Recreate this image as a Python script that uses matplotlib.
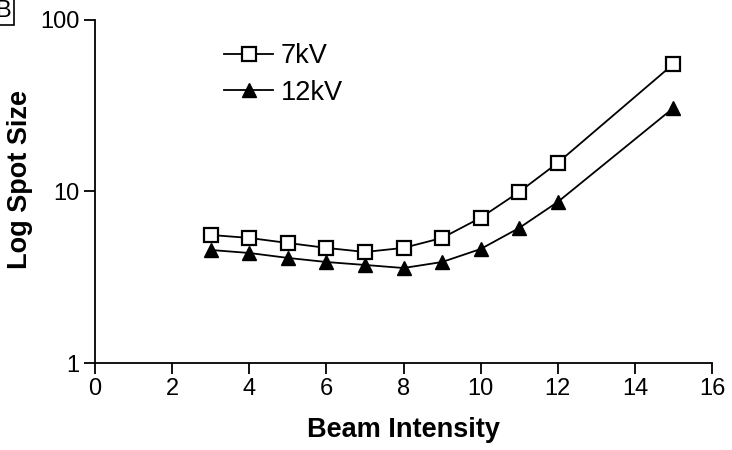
import matplotlib
matplotlib.use("Agg")
import matplotlib.pyplot as plt
from matplotlib.ticker import FixedLocator, NullLocator, FixedFormatter

plt.rcParams['font.family'] = ['Liberation Sans', 'DejaVu Sans']

# beam intensity values
x_7kv = [3, 4, 5, 6, 7, 8, 9, 10, 11, 12, 15]
y_7kv = [5.58, 5.36, 5.01, 4.69, 4.44, 4.69, 5.36, 7.03, 9.94, 14.7, 55.4]

x_12kv = [3, 4, 5, 6, 7, 8, 9, 10, 11, 12, 15]
y_12kv = [4.56, 4.38, 4.10, 3.88, 3.73, 3.58, 3.88, 4.62, 6.13, 8.69, 30.7]

xticks = [0, 2, 4, 6, 8, 10, 12, 14, 16]
yticks = [1, 10, 100]
ylabels = ['1', '10', '100']

fig = plt.figure(figsize=(7.32, 4.5), dpi=100)
ax = fig.add_axes([0.1298, 0.1933, 0.8429, 0.7623])

ax.plot(x_7kv, y_7kv, '-s', color='black', lw=1.3, markersize=10,
        markerfacecolor='white', markeredgecolor='black', markeredgewidth=1.6,
        label='7kV')
ax.plot(x_12kv, y_12kv, '-^', color='black', lw=1.3, markersize=10,
        markerfacecolor='black', label='12kV')

ax.set_yscale('log')
ax.set_xlim(0, 16)
ax.set_ylim(1, 100)
ax.set_xticks(xticks)
ax.yaxis.set_major_locator(FixedLocator(yticks))
ax.yaxis.set_major_formatter(FixedFormatter(ylabels))
ax.yaxis.set_minor_locator(NullLocator())

for s in ['top', 'right']:
  ax.spines[s].set_visible(False)
for s in ['left', 'bottom']:
  ax.spines[s].set_linewidth(1.3)

ax.tick_params(axis='both', which='major', direction='out', length=8, width=1.3,
               labelsize=17, pad=3)

ax.set_xlabel('Beam Intensity', fontsize=19.5, fontweight='bold', labelpad=12)
ax.set_ylabel('Log Spot Size', fontsize=19.5, fontweight='bold', labelpad=5)
ax.yaxis.set_label_coords(-0.1, 0.536)

ax.legend(loc='upper left', bbox_to_anchor=(0.183, 0.98), frameon=False,
          fontsize=19.5, handlelength=1.8, handletextpad=0.3, labelspacing=0.4,
          borderaxespad=0.2)

fig.text(-0.006, 0.975, 'B', fontsize=17, ha='left', va='center',
         bbox=dict(boxstyle='square,pad=0.1', facecolor='white', edgecolor='black', lw=1.2))

plt.savefig('out.png', dpi=100)
